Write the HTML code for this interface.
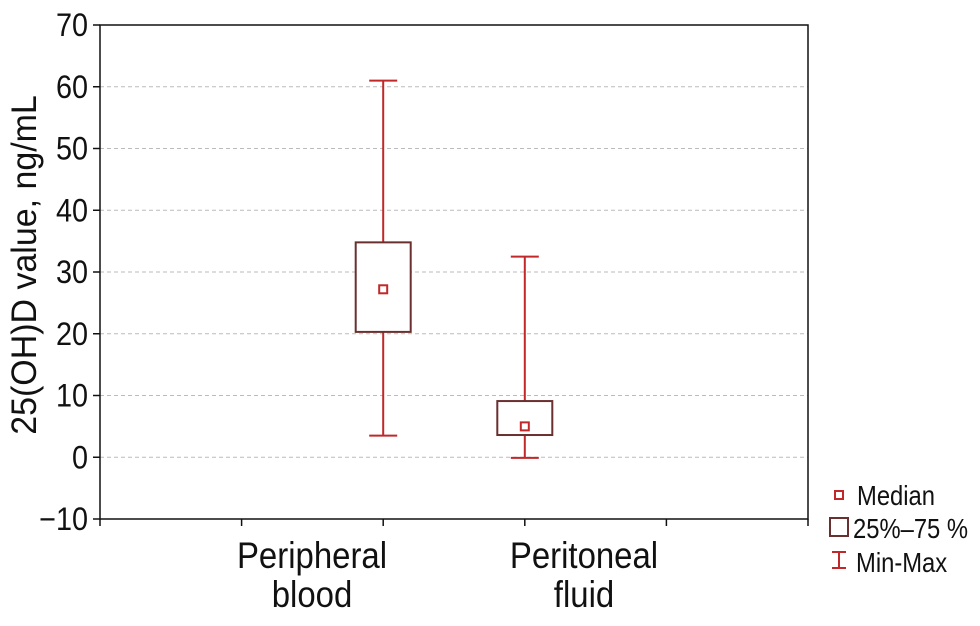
<!DOCTYPE html>
<html><head><meta charset="utf-8"><style>
html,body{margin:0;padding:0;background:#fff}
svg text{font-family:"Liberation Sans",sans-serif;fill:#111}
</style></head><body>
<svg id="chart" width="980" height="621" viewBox="0 0 980 621" xmlns="http://www.w3.org/2000/svg">
<g id="grid"></g><g id="marks"></g><g id="axes"></g>
<text transform="translate(36,265) rotate(-90) scale(0.97,1)" text-anchor="middle" font-size="35">25(OH)D value, ng/mL</text>
<g>
<g><rect x="835" y="491" width="8" height="8" fill="none" stroke="#c0282a" stroke-width="2"/><text transform="translate(857,505) scale(0.85,1)" font-size="28">Median</text></g>
<g><rect x="830" y="518" width="18" height="18" fill="none" stroke="#6a2f2f" stroke-width="2"/><text transform="translate(853,538) scale(0.85,1)" font-size="28">25%–75 %</text></g>
<g><path d="M832 552H846M839 552V568M832 568H846" stroke="#c0282a" stroke-width="2" fill="none"/><text transform="translate(856,572) scale(0.85,1)" font-size="28">Min-Max</text></g>
</g>
</svg>
<script>
const categories=[["Peripheral","blood"],["Peritoneal","fluid"]];
const mins=[3.5,-0.1];
const q1s=[20.3,3.6];
const medians=[27.2,5.0];
const q3s=[34.8,9.1];
const maxs=[61,32.5];
const yTicks=[-10,0,10,20,30,40,50,60,70];
const yTickLabels=["−10","0","10","20","30","40","50","60","70"];
const L=100,R=808,T=25,B=519;
const y=v=>B-(v+10)/80*(B-T);
const x=i=>L+(i+2)*(R-L)/5;
const labelX=i=>312+i*272;
const NS="http://www.w3.org/2000/svg";
function mk(parent,tag,attrs){const e=document.createElementNS(NS,tag);for(const k in attrs)e.setAttribute(k,attrs[k]);document.getElementById(parent).appendChild(e);return e;}
yTicks.forEach((t,i)=>{
  if(t>-10&&t<70){const g=mk('grid','line',{x1:L,x2:R,y1:y(t),y2:y(t),stroke:'#bbb','stroke-dasharray':'4,3','stroke-width':1});
  
  }
  const tk=mk('axes','line',{x1:L-7,x2:L,y1:y(t),y2:y(t),stroke:'#111','stroke-width':1.5});
  
  
  const tx=mk('axes','text',{transform:`translate(${L-12},${y(t)+11}) scale(0.9,1)`,'text-anchor':'end','font-size':32});
  tx.textContent=yTickLabels[i];
  
  
});
for(let j=0;j<=5;j++){const tk=mk('axes','line',{x1:L+j*(R-L)/5,x2:L+j*(R-L)/5,y1:B,y2:B+7,stroke:'#111','stroke-width':1.5});

}
const frame=mk('axes','rect',{x:L,y:T,width:R-L,height:B-T,fill:'none',stroke:'#111','stroke-width':1.5});


categories.forEach((c,i)=>{
  const cx=x(i);
  const wh=mk('marks','path',{d:`M${cx-14} ${y(maxs[i])}H${cx+14}M${cx} ${y(maxs[i])}V${y(mins[i])}M${cx-14} ${y(mins[i])}H${cx+14}`,stroke:'#c0282a','stroke-width':2,fill:'none'});
  
  
  const bx=mk('marks','rect',{x:cx-27.5,y:y(q3s[i]),width:55,height:y(q1s[i])-y(q3s[i]),fill:'#fff',stroke:'#6a2f2f','stroke-width':2});
  
  
  const md=mk('marks','rect',{x:cx-4,y:y(medians[i])-4,width:8,height:8,fill:'none',stroke:'#c0282a','stroke-width':2});
  
  
  c.forEach((line,k)=>{const t=mk('axes','text',{transform:`translate(${labelX(i)},${568+k*39}) scale(0.89,1)`,'text-anchor':'middle','font-size':37});
  t.textContent=line;
  
  });
});
</script>
</body></html>
